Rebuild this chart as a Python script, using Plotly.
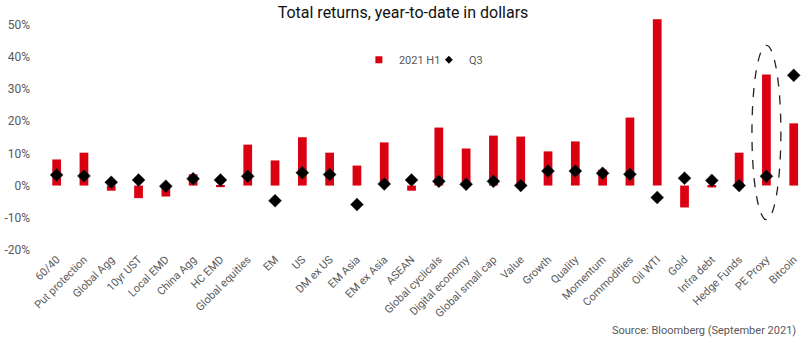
import plotly.graph_objects as go

categories = ["60/40", "Put protection", "Global Agg", "10yr UST", "Local EMD", "China Agg",
              "HC EMD", "Global equities", "EM", "US", "DM ex US", "EM Asia", "EM ex Asia",
              "ASEAN", "Global cyclicals", "Digital economy", "Global small cap", "Value",
              "Growth", "Quality", "Momentum", "Commodities", "Oil WTI", "Gold", "Infra debt",
              "Hedge Funds", "PE Proxy", "Bitcoin"]
h1_2021 = [8.1, 10.2, -1.6, -3.9, -3.4, 3.5, -0.5, 12.7, 7.8, 15.0, 10.2, 6.2, 13.4,
           -1.6, 18.0, 11.5, 15.5, 15.2, 10.6, 13.7, 4.9, 21.1, 51.6, -6.8, -0.6,
           10.2, 34.5, 19.3]
q3 = [3.3, 3.0, 1.0, 1.7, -0.2, 2.1, 1.7, 2.9, -4.7, 4.0, 3.4, -5.9, 0.5,
      1.7, 1.3, 0.4, 1.3, 0.0, 4.5, 4.5, 3.8, 3.5, -3.7, 2.3, 1.6,
      0.0, 2.9, 34.2]
y_ticks = [-20, -10, 0, 10, 20, 30, 40, 50]
y_tick_labels = [f"{v}%" for v in y_ticks]

RED = "#DB0011"
GREY = "#595959"
FONT = "Roboto"

fig = go.Figure()
fig.add_trace(go.Bar(x=categories, y=h1_2021, name="2021 H1", marker=dict(color=RED, line_width=0),
                     width=0.32, showlegend=False))
fig.add_trace(go.Scatter(x=categories, y=q3, name="Q3", mode="markers", showlegend=False,
                         marker=dict(symbol="diamond", color="black", size=10,
                                     line=dict(color="#333333", width=0.5))))
# legend entries (small swatches as in the reference)
fig.add_trace(go.Scatter(x=[None], y=[None], name="2021 H1", mode="markers",
                         marker=dict(symbol="square", color=RED, size=7)))
fig.add_trace(go.Scatter(x=[None], y=[None], name="Q3", mode="markers",
                         marker=dict(symbol="diamond", color="black", size=6)))

# dashed ellipse around PE Proxy
pe_idx = categories.index("PE Proxy")
fig.add_shape(type="circle", xref="x", yref="y", x0=pe_idx - 0.53, x1=pe_idx + 0.53,
              y0=-10.6, y1=43.5, line=dict(color="#222222", width=1.3, dash="dash"))

fig.add_annotation(text="Source: Bloomberg (September 2021)", xref="paper", yref="paper",
                   x=1, xshift=-8, y=-0.345, xanchor="right", yanchor="middle", showarrow=False,
                   font=dict(family=FONT, size=11, color=GREY))

fig.update_layout(
    width=806, height=340,
    margin=dict(l=43, r=0, t=18, b=90),
    paper_bgcolor="white", plot_bgcolor="white",
    font=dict(family=FONT, color=GREY),
    title=dict(text="Total returns, year-to-date in dollars", x=0.5, xanchor="center",
               y=1 - 12 / 340, yanchor="middle", yref="container",
               font=dict(family=FONT, size=16, color="#111111")),
    showlegend=True,
    legend=dict(orientation="h", x=0.414, xanchor="left", y=0.82, yanchor="middle",
                font=dict(family=FONT, size=11, color=GREY), bgcolor="rgba(0,0,0,0)",
                itemwidth=30, entrywidth=25, tracegroupgap=0),
    xaxis=dict(type="category", range=[-0.5, 27.45], showgrid=False, zeroline=False,
               showline=False, ticks="", tickangle=-45,
               tickfont=dict(family=FONT, size=11, color=GREY)),
    yaxis=dict(range=[-20, 52], tickvals=y_ticks, ticktext=y_tick_labels, showgrid=False,
               zeroline=False, showline=False, ticks="", ticklabelstandoff=12,
               tickfont=dict(family=FONT, size=12, color=GREY)),
)

fig.write_html("out.html")
